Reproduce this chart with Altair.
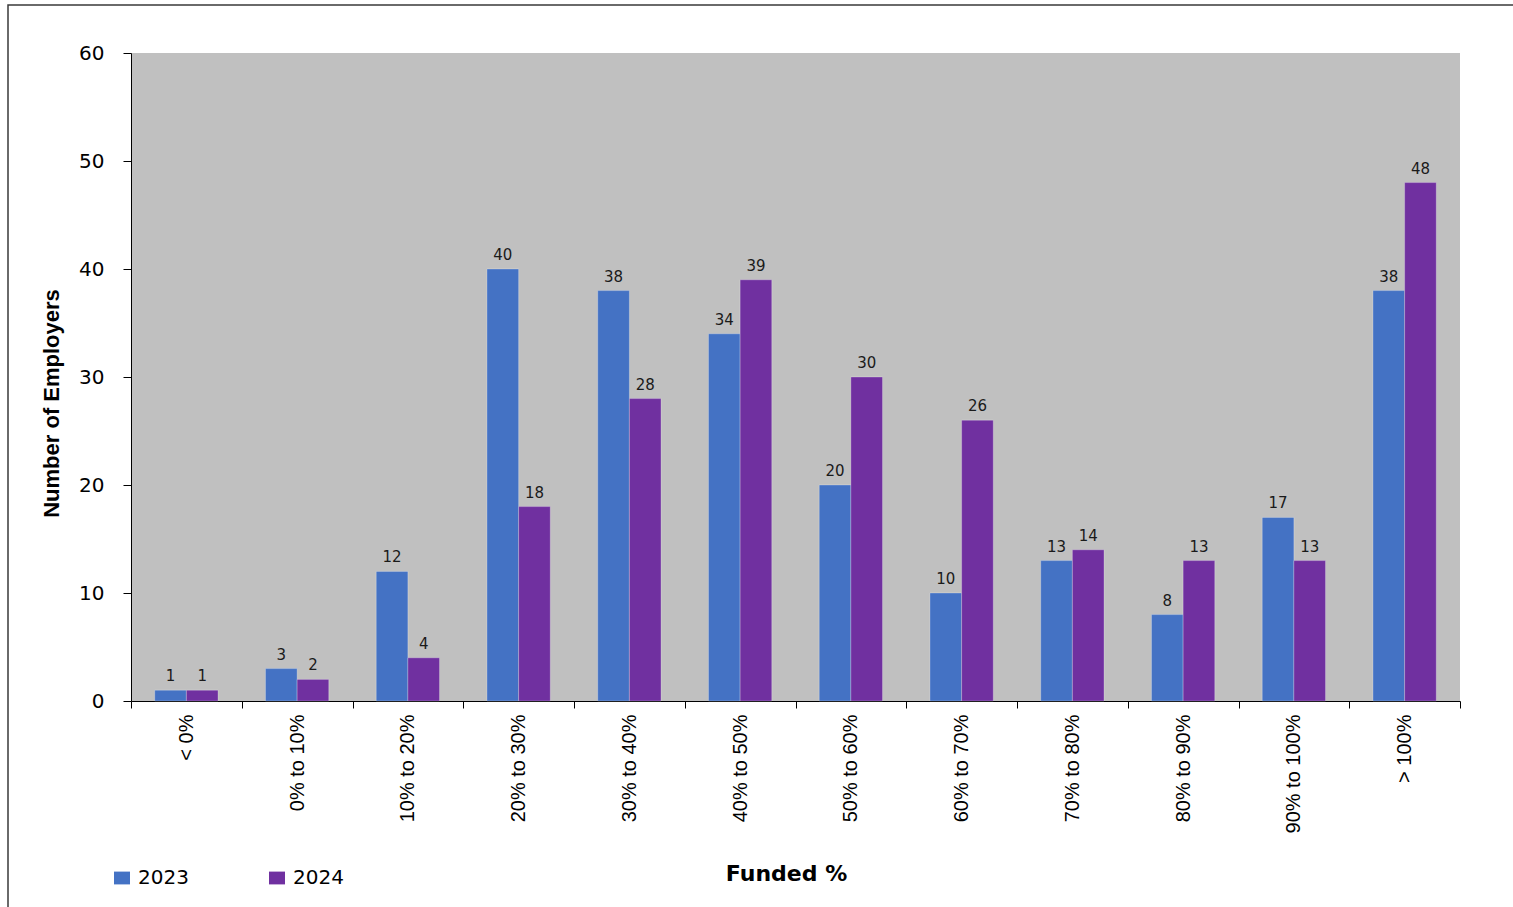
import altair as alt
import pandas as pd

categories = ["< 0%", "0% to 10%", "10% to 20%", "20% to 30%", "30% to 40%", "40% to 50%",
              "50% to 60%", "60% to 70%", "70% to 80%", "80% to 90%", "90% to 100%", "> 100%"]
years = ["2023", "2024"]
v2023 = [1, 3, 12, 40, 38, 34, 20, 10, 13, 8, 17, 38]
v2024 = [1, 2, 4, 18, 28, 39, 30, 26, 14, 13, 13, 48]
colors = ["#4472C4", "#7030A0"]

rows = []
for c, a, b in zip(categories, v2023, v2024):
    rows.append({"cat": c, "year": years[0], "value": a})
    rows.append({"cat": c, "year": years[1], "value": b})
df = pd.DataFrame(rows)

base = alt.Chart(df).encode(
    x=alt.X("cat:N", sort=categories,
            scale=alt.Scale(paddingInner=0, paddingOuter=0),
            axis=alt.Axis(title="Funded %", labelAngle=270, labelAlign="right",
                          labelBaseline="middle", labelFont="Liberation Sans",
                          labelFontSize=20, labelColor="#000000", labelPadding=6,
                          tickSize=7, tickBand="extent", tickColor="#000000",
                          domainColor="#000000", labelOverlap=False,
                          titleFont="DejaVu Sans", titleFontSize=22, titleFontWeight="bold",
                          titleColor="#000000", titleX=655, titleY=179,
                          titleAlign="center", titleBaseline="alphabetic")),
    xOffset=alt.XOffset("year:N", sort=years,
                        scale=alt.Scale(paddingInner=0, paddingOuter=0.75)),
)

bars = base.mark_bar(stroke="#ffffff", strokeOpacity=0.25, strokeWidth=1).encode(
    y=alt.Y("value:Q", scale=alt.Scale(domain=[0, 60], nice=False),
            axis=alt.Axis(title="Number of Employers", values=[0, 10, 20, 30, 40, 50, 60],
                          grid=False, tickSize=8, tickColor="#000000", domainColor="#000000",
                          labelFont="DejaVu Sans", labelFontSize=20, labelColor="#000000",
                          labelPadding=19,
                          titleFont="Liberation Sans", titleFontSize=22,
                          titleFontWeight="bold", titleColor="#000000",
                          titleAngle=270, titleX=-73, titleY=350,
                          titleAlign="center", titleBaseline="alphabetic")),
    color=alt.Color("year:N", sort=years,
                    scale=alt.Scale(domain=years, range=colors),
                    legend=alt.Legend(title=None, orient="none", legendX=-19, legendY=815,
                                      direction="horizontal",
                                      symbolType="M-1,-0.8H1V0.8H-1Z", symbolSize=256,
                                      symbolStrokeWidth=0, labelFont="DejaVu Sans",
                                      labelFontSize=20, labelColor="#000000",
                                      labelOffset=6, columnPadding=78)),
)

labels = base.mark_text(dy=-9, baseline="alphabetic", align="center",
                        font="DejaVu Sans", fontSize=15, color="#1a1a1a").encode(
    y=alt.Y("value:Q"),
    text=alt.Text("value:Q"),
)

frame = alt.Chart(pd.DataFrame({"f": [0]})).mark_rect(
    fill=None, fillOpacity=0, stroke="#3a3a3a", strokeWidth=1.5
).encode(
    x=alt.value(-123), x2=alt.value(1500), y=alt.value(-48), y2=alt.value(1000)
)

chart = alt.layer(frame, bars, labels).properties(
    width=1329, height=648,
    background="#ffffff",
    autosize=alt.AutoSizeParams(type="none"),
    padding={"left": 131, "top": 53, "right": 53, "bottom": 206},
).configure_view(fill="#C0C0C0", strokeWidth=0)

chart.save("out.html", embed_options={"renderer": "svg", "actions": False})
